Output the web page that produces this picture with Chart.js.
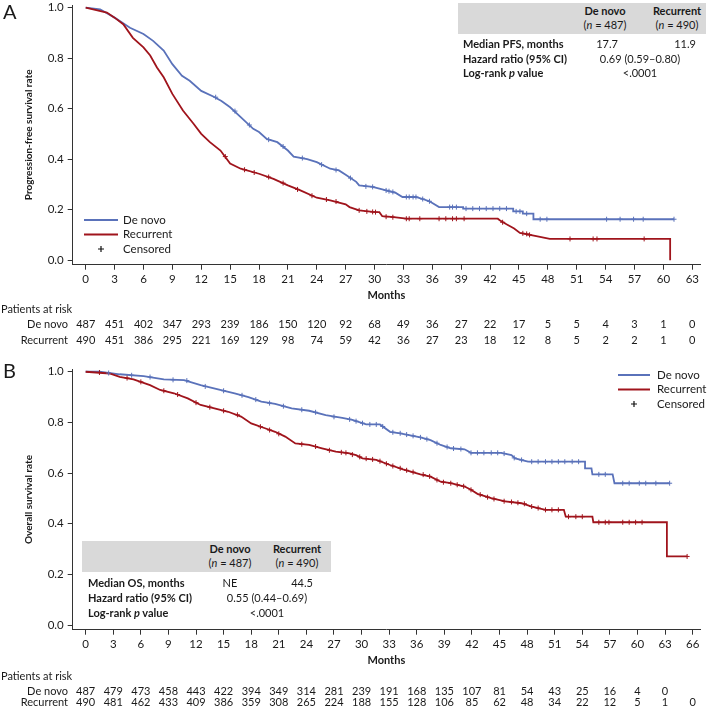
<!DOCTYPE html>
<html><head><meta charset="utf-8">
<script src="https://cdn.jsdelivr.net/npm/chart.js@4.4.1/dist/chart.umd.min.js"></script>
<style>
html,body{margin:0;padding:0;background:#fff;}
body{width:709px;height:712px;position:relative;overflow:hidden;font-family:Lato,"Open Sans",sans-serif;color:#1a1a1a;}
canvas{position:absolute;left:0;}
.box{position:absolute;background:#d9d9d9;}
.c{position:absolute;font-size:11px;white-space:nowrap;transform:translate(-50%,-50%);line-height:12px;}
.l{position:absolute;font-size:11px;white-space:nowrap;transform:translate(0,-50%);line-height:12px;font-weight:bold;}
.b{font-weight:bold;}
</style></head>
<body>
<canvas id="cA" width="709" height="350" style="top:0;width:709px;height:350px"></canvas>
<canvas id="cB" width="709" height="357" style="top:355px;width:709px;height:357px"></canvas>

<div class="box" style="left:458px;top:3px;width:248px;height:31px"></div>
<div class="c b" style="left:605px;top:11px">De novo</div>
<div class="c" style="left:605px;top:25px">(<i>n</i> = 487)</div>
<div class="c b" style="left:677px;top:11px">Recurrent</div>
<div class="c" style="left:677px;top:25px">(<i>n</i> = 490)</div>
<div class="l" style="left:463px;top:44px">Median PFS, months</div>
<div class="l" style="left:463px;top:59px">Hazard ratio (95% CI)</div>
<div class="l" style="left:463px;top:73px">Log-rank <i>p</i> value</div>
<div class="c" style="left:607px;top:44px">17.7</div>
<div class="c" style="left:685px;top:44px">11.9</div>
<div class="c" style="left:640px;top:59px">0.69 (0.59–0.80)</div>
<div class="c" style="left:640px;top:73px">&lt;.0001</div>

<div class="box" style="left:82px;top:541px;width:249px;height:31px"></div>
<div class="c b" style="left:230px;top:549px">De novo</div>
<div class="c" style="left:230px;top:563px">(<i>n</i> = 487)</div>
<div class="c b" style="left:297px;top:549px">Recurrent</div>
<div class="c" style="left:297px;top:563px">(<i>n</i> = 490)</div>
<div class="l" style="left:88px;top:583px">Median OS, months</div>
<div class="l" style="left:88px;top:598px">Hazard ratio (95% CI)</div>
<div class="l" style="left:88px;top:613px">Log-rank <i>p</i> value</div>
<div class="c" style="left:230px;top:583px">NE</div>
<div class="c" style="left:302px;top:583px">44.5</div>
<div class="c" style="left:267px;top:598px">0.55 (0.44–0.69)</div>
<div class="c" style="left:267px;top:613px">&lt;.0001</div>

<script>
// ---------- DATA ----------
const monthsA = [0,3,6,9,12,15,18,21,24,27,30,33,36,39,42,45,48,51,54,57,60,63];
const monthsB = [0,3,6,9,12,15,18,21,24,27,30,33,36,39,42,45,48,51,54,57,60,63,66];
const rateTicks = [0,0.2,0.4,0.6,0.8,1.0];

const pfsRiskDeNovo    = [487,451,402,347,293,239,186,150,120,92,68,49,36,27,22,17,5,5,4,3,1,0];
const pfsRiskRecurrent = [490,451,386,295,221,169,129,98,74,59,42,36,27,23,18,12,8,5,2,2,1,0];
const osRiskDeNovo     = [487,479,473,458,443,422,394,349,314,281,239,191,168,135,107,81,54,43,25,16,4,0];
const osRiskRecurrent  = [490,481,462,433,409,386,359,308,265,224,188,155,128,106,85,62,48,34,22,12,5,1,0];

// Kaplan-Meier curves [month, survival]
const pfsDeNovo = [[0,1],[1.5,0.993],[3,0.96],[4.6,0.92],[6,0.895],[7,0.868],[8.1,0.83],[9,0.776],[10,0.73],[10.8,0.71],[12,0.67],[13.3,0.647],[14.1,0.63],[15,0.605],[16.1,0.566],[17.4,0.52],[18,0.507],[18.8,0.48],[19.9,0.467],[21,0.434],[21.6,0.41],[23,0.40],[24,0.388],[25.4,0.362],[26.3,0.355],[27,0.338],[28.1,0.31],[28.4,0.296],[29.8,0.29],[30.5,0.283],[31.2,0.276],[32.2,0.266],[32.9,0.25],[34.3,0.25],[35,0.242],[35.7,0.233],[36.7,0.21],[39.2,0.21],[39.2,0.204],[44.4,0.204],[44.4,0.193],[45.4,0.193],[45.4,0.184],[46.5,0.184],[46.5,0.162],[61.1,0.162]];
const pfsRecurrent = [[0,1],[2.2,0.98],[3,0.96],[3.9,0.934],[4.9,0.88],[6,0.842],[6.7,0.81],[7.4,0.763],[8.1,0.724],[9,0.658],[10.1,0.592],[11.2,0.54],[12,0.50],[12.9,0.467],[14,0.434],[15,0.382],[16.1,0.362],[18,0.342],[19.5,0.322],[21,0.296],[22.3,0.276],[24,0.247],[25.4,0.237],[27,0.221],[27.4,0.21],[28.4,0.197],[29.8,0.191],[30.5,0.19],[30.8,0.174],[32,0.17],[33.3,0.164],[42.8,0.164],[43,0.158],[43.7,0.142],[44.5,0.125],[45.1,0.108],[46.8,0.095],[48.2,0.084],[60.7,0.084],[60.7,0]];
const osDeNovo = [[0,1],[1.5,1],[3.7,0.99],[6.3,0.983],[8.5,0.97],[10.7,0.967],[12.5,0.947],[14.4,0.93],[16.2,0.915],[17.7,0.90],[19.1,0.882],[20.6,0.873],[22.4,0.855],[24.3,0.846],[26.1,0.829],[27.9,0.818],[29,0.81],[30.5,0.792],[32,0.792],[33.1,0.763],[34.2,0.757],[36.4,0.741],[37.5,0.73],[38.6,0.711],[39.7,0.698],[41.2,0.694],[41.9,0.68],[45.2,0.68],[46.3,0.671],[46.7,0.658],[48.1,0.645],[54.3,0.645],[54.3,0.619],[55,0.619],[55.1,0.595],[57.3,0.595],[57.5,0.56],[63.5,0.56]];
const osRecurrent = [[0,1],[2.6,0.993],[3.7,0.98],[5.2,0.97],[7,0.947],[8.1,0.928],[9.6,0.915],[11.1,0.895],[12.5,0.869],[14,0.855],[15.5,0.842],[16.9,0.823],[18,0.796],[19.5,0.777],[20.6,0.763],[21.7,0.744],[22.8,0.717],[24.3,0.711],[25.7,0.698],[27.2,0.685],[28.7,0.678],[29.4,0.671],[30.1,0.658],[31.6,0.652],[33.1,0.632],[34.5,0.615],[36.4,0.595],[37.5,0.586],[38.6,0.566],[39.7,0.56],[41.2,0.547],[41.9,0.534],[42.6,0.518],[44.1,0.501],[45.6,0.488],[47.4,0.481],[48.5,0.468],[50,0.455],[52,0.455],[52.2,0.428],[55.1,0.428],[55.2,0.406],[63.2,0.406],[63.2,0.271],[65.4,0.271]];

// Censored marks [month, survival]
const pfsCensDeNovo = [[13.5,0.645],[15.5,0.59],[17,0.535],[19,0.477],[20.5,0.45],[22.5,0.404],[24.5,0.378],[26,0.357],[27.5,0.325],[29.1,0.292],[29.8,0.29],[31.2,0.276],[31.5,0.273],[31.9,0.27],[33.3,0.25],[33.6,0.25],[34.0,0.25],[34.3,0.25],[35.0,0.242],[35.7,0.233],[37.8,0.21],[38.1,0.21],[38.5,0.21],[39.5,0.204],[40.2,0.204],[40.9,0.204],[41.6,0.204],[42.3,0.204],[43.0,0.204],[43.7,0.204],[44.7,0.193],[45.1,0.193],[45.8,0.184],[47.2,0.162],[47.9,0.162],[54.1,0.162],[55.5,0.162],[56.9,0.162],[57.9,0.162],[61.1,0.162]];
const pfsCensRecurrent = [[14.5,0.41],[16.5,0.358],[17.5,0.347],[19,0.329],[20.5,0.305],[22,0.28],[23.5,0.255],[25,0.24],[26,0.232],[28.4,0.197],[29.2,0.193],[29.8,0.191],[30.1,0.19],[31.2,0.172],[31.9,0.17],[33.3,0.164],[33.6,0.164],[34.7,0.164],[36.7,0.164],[37.4,0.164],[38.1,0.164],[38.5,0.164],[39.3,0.164],[43.3,0.15],[45.4,0.106],[45.8,0.104],[46.1,0.10],[50.3,0.084],[52.7,0.084],[53.1,0.084],[58.0,0.084]];
const osCensDeNovo = [[2.5,0.995],[5,0.986],[7,0.979],[9.5,0.968],[11,0.965],[13,0.942],[15,0.925],[17,0.907],[18.5,0.89],[20,0.876],[21.5,0.864],[23.5,0.85],[25,0.84],[27,0.822],[28.7,0.812],[29.4,0.805],[30.1,0.797],[30.9,0.792],[31.6,0.792],[32.3,0.784],[33.4,0.761],[34.2,0.757],[34.9,0.752],[35.6,0.747],[36.4,0.741],[37.1,0.734],[38.2,0.718],[39.3,0.703],[40.0,0.697],[40.8,0.695],[41.9,0.68],[42.6,0.68],[43.3,0.68],[44.1,0.68],[44.8,0.68],[45.5,0.677],[46.6,0.66],[47.4,0.652],[48.5,0.645],[49.2,0.645],[50.0,0.645],[50.7,0.645],[51.4,0.645],[52.1,0.645],[52.9,0.645],[53.6,0.645],[55.8,0.595],[56.5,0.595],[58.4,0.56],[59.1,0.56],[60.2,0.56],[60.9,0.56],[62.0,0.56],[63.5,0.56]];
const osCensRecurrent = [[1.5,0.997],[4.5,0.975],[6,0.96],[8.5,0.925],[10,0.91],[12,0.878],[13.5,0.86],[15,0.846],[16.5,0.83],[19,0.783],[20,0.77],[21,0.755],[23.5,0.714],[25,0.705],[26.5,0.69],[27.8,0.682],[28.3,0.68],[29.0,0.673],[29.8,0.664],[30.5,0.657],[31.2,0.654],[32.0,0.647],[32.7,0.637],[33.4,0.628],[34.2,0.619],[34.9,0.611],[35.6,0.604],[36.7,0.594],[37.4,0.587],[38.2,0.573],[38.9,0.564],[39.7,0.56],[40.4,0.554],[41.1,0.548],[41.9,0.534],[42.9,0.515],[43.7,0.505],[44.4,0.498],[45.5,0.489],[46.3,0.486],[47.0,0.483],[47.7,0.479],[48.5,0.468],[49.2,0.462],[50.0,0.455],[50.7,0.455],[51.4,0.455],[52.5,0.428],[53.3,0.428],[54.0,0.428],[55.8,0.406],[56.5,0.406],[56.9,0.406],[58.4,0.406],[59.1,0.406],[59.8,0.406],[60.5,0.406],[65.4,0.271]];

// ---------- STYLE ----------
const BLUE = '#5a72ba', RED = '#a0141c', TXT = '#1a1a1a', AX = '#333';
const FONT = 'Lato, "Open Sans", sans-serif';

const xy = arr => arr.map(p => ({x:p[0], y:p[1]}));

const extras = {
  id: 'extras',
  afterDraw(chart, args, o) {
    const ctx = chart.ctx, xs = chart.scales.x;
    ctx.save();
    ctx.fillStyle = TXT;
    ctx.textBaseline = 'middle';
    ctx.font = '20px ' + FONT;
    ctx.textAlign = 'left';
    ctx.fillText(o.letter, 3, o.letterY);
    ctx.font = '11px ' + FONT;
    ctx.fillText('Patients at risk', 1, o.parY);
    o.rows.forEach(r => {
      ctx.textAlign = 'right';
      ctx.fillText(r.label, 68, r.y);
      ctx.textAlign = 'center';
      r.values.forEach((v, i) => ctx.fillText(String(v), xs.getPixelForValue(o.months[i]), r.y));
    });
    const L = o.legend;
    ctx.lineWidth = 2;
    ctx.strokeStyle = BLUE;
    ctx.beginPath(); ctx.moveTo(L.x0, L.y); ctx.lineTo(L.x1, L.y); ctx.stroke();
    ctx.strokeStyle = RED;
    ctx.beginPath(); ctx.moveTo(L.x0, L.y + L.dy); ctx.lineTo(L.x1, L.y + L.dy); ctx.stroke();
    ctx.strokeStyle = '#111'; ctx.lineWidth = 1.2;
    const cx = (L.x0 + L.x1) / 2, cy = L.y + 2 * L.dy;
    ctx.beginPath(); ctx.moveTo(cx - 3, cy); ctx.lineTo(cx + 3, cy); ctx.moveTo(cx, cy - 3); ctx.lineTo(cx, cy + 3); ctx.stroke();
    ctx.textAlign = 'left';
    ctx.font = '11.5px ' + FONT;
    ctx.fillText('De novo', L.tx, L.y);
    ctx.fillText('Recurrent', L.tx, L.y + L.dy);
    ctx.fillText('Censored', L.tx, L.y + 2 * L.dy);
    ctx.restore();
  }
};

function makeChart(id, cfg) {
  return new Chart(document.getElementById(id), {
    type: 'line',
    data: { datasets: [
      {data: xy(cfg.red), borderColor: RED, borderWidth: 1.8, pointRadius: 0, tension: 0, fill: false, order: 1},
      {data: xy(cfg.blue), borderColor: BLUE, borderWidth: 1.8, pointRadius: 0, tension: 0, fill: false, order: 2},
      {data: xy(cfg.redCens), showLine: false, pointStyle: 'cross', pointRadius: 2.5, borderColor: RED, borderWidth: 1, order: 0},
      {data: xy(cfg.blueCens), showLine: false, pointStyle: 'cross', pointRadius: 2.5, borderColor: BLUE, borderWidth: 1, order: 0}
    ]},
    options: {
      responsive: false, animation: false, devicePixelRatio: 1,
      layout: {padding: {top: cfg.padTop, right: 9, bottom: cfg.padBottom, left: 0}},
      plugins: {legend: {display: false}, tooltip: {enabled: false}, extras: cfg.extras},
      scales: {
        x: {
          type: 'linear', min: cfg.xmin, max: cfg.xmax,
          afterFit: s => { s.height = 40; s.paddingLeft = 0; s.paddingRight = 0; },
          afterBuildTicks: s => { s.ticks = cfg.months.map(v => ({value: v})); },
          ticks: {autoSkip: false, maxRotation: 0, padding: 3, color: TXT, font: {family: FONT, size: 11.5}, callback: v => String(v)},
          grid: {drawOnChartArea: false, drawTicks: true, tickLength: 5, color: AX, tickColor: AX, tickWidth: 1},
          border: {display: true, color: AX, width: 1},
          title: {display: true, text: 'Months', color: TXT, font: {family: FONT, size: 11, weight: 'bold'}, padding: {top: 0, bottom: 2.4}}
        },
        y: {
          type: 'linear', min: -0.018, max: 1.01,
          afterFit: s => { s.width = 72.7; s.paddingTop = 0; s.paddingBottom = 0; },
          afterBuildTicks: s => { s.ticks = rateTicks.map(v => ({value: v})); },
          ticks: {padding: 4, color: TXT, font: {family: FONT, size: 11.5}, callback: v => Number(v).toFixed(1)},
          grid: {drawOnChartArea: false, drawTicks: true, tickLength: 5, color: AX, tickColor: AX, tickWidth: 1},
          border: {display: true, color: AX, width: 1},
          title: {display: true, text: cfg.ytitle, color: TXT, font: {family: FONT, size: 10, weight: 'bold'}, padding: {top: 23, bottom: 0}}
        }
      }
    },
    plugins: [extras]
  });
}

makeChart('cA', {
  blue: pfsDeNovo, red: pfsRecurrent, blueCens: pfsCensDeNovo, redCens: pfsCensRecurrent,
  months: monthsA, xmin: -1.35, xmax: 63.8, padTop: 4.2, padBottom: 45.3,
  ytitle: 'Progression-free survival rate',
  extras: {letter: 'A', letterY: 13, months: monthsA, parY: 309,
    rows: [{label: 'De novo', y: 324.5, values: pfsRiskDeNovo}, {label: 'Recurrent', y: 340, values: pfsRiskRecurrent}],
    legend: {x0: 84, x1: 118, y: 220, dy: 14.5, tx: 123}}
});
makeChart('cB', {
  blue: osDeNovo, red: osRecurrent, blueCens: osCensDeNovo, redCens: osCensRecurrent,
  months: monthsB, xmin: -1.41, xmax: 66.8, padTop: 14.2, padBottom: 42.3,
  ytitle: 'Overall survival rate',
  extras: {letter: 'B', letterY: 17, months: monthsB, parY: 321.7,
    rows: [{label: 'De novo', y: 336, values: osRiskDeNovo}, {label: 'Recurrent', y: 347.7, values: osRiskRecurrent}],
    legend: {x0: 618, x1: 650, y: 20, dy: 14.5, tx: 657}}
});
</script>
</body></html>
